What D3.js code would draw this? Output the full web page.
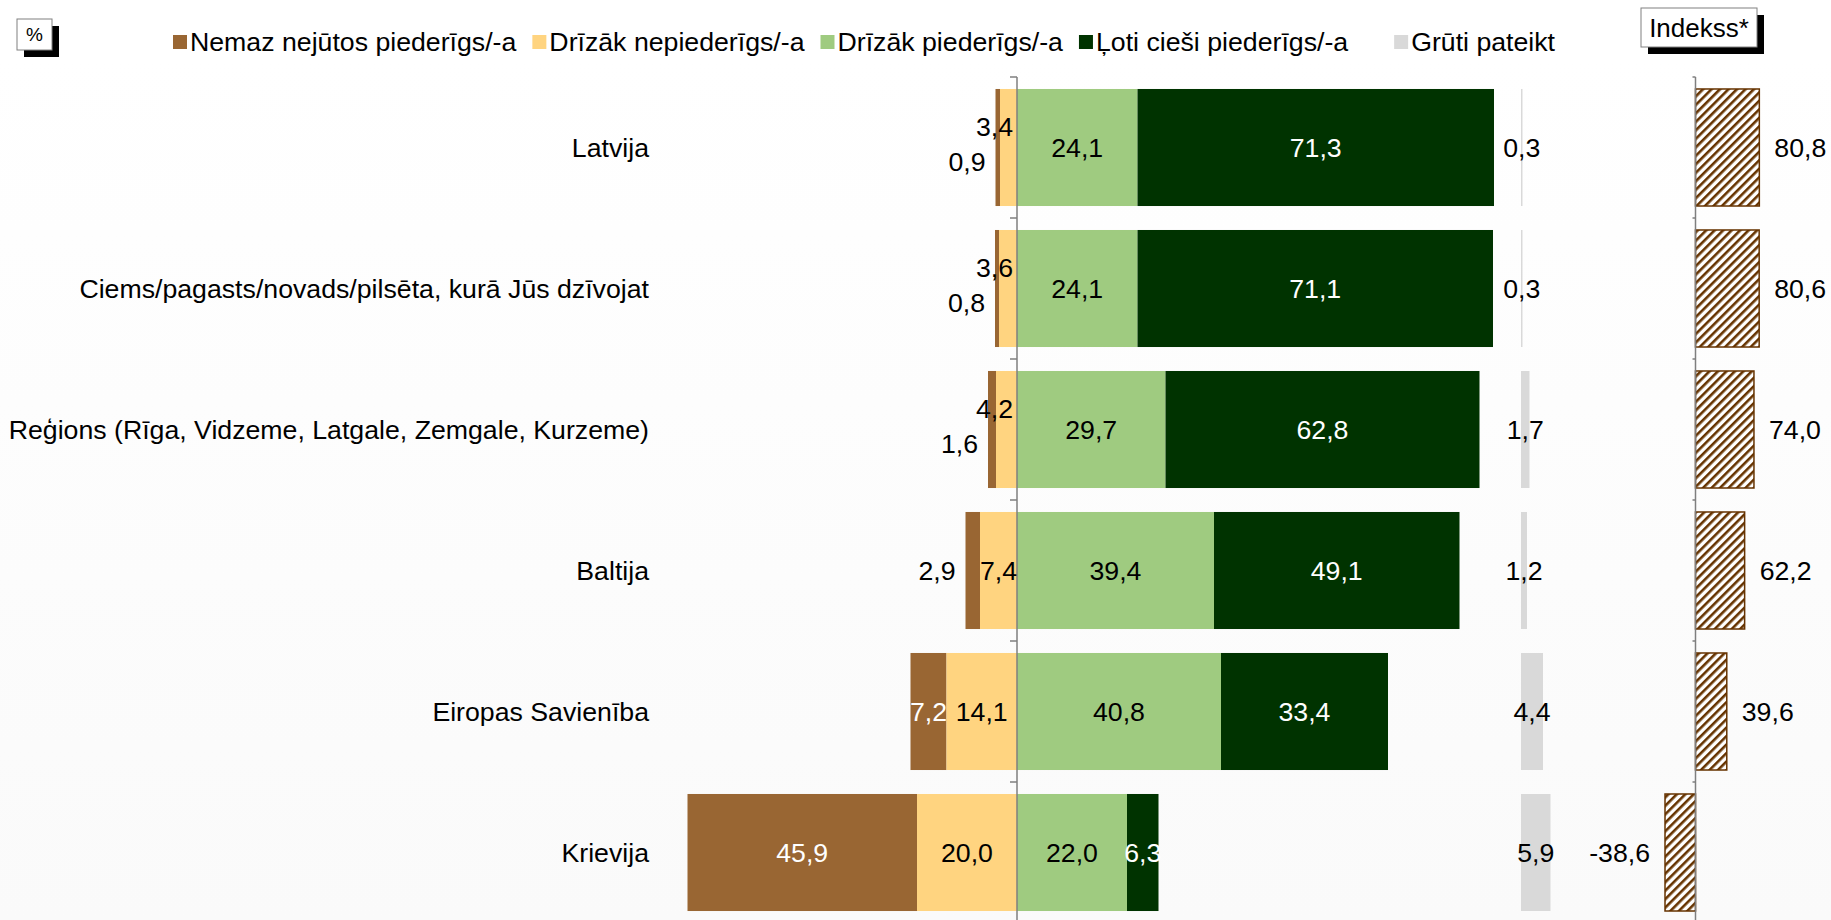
<!DOCTYPE html>
<meta charset="utf-8">
<style>
body { margin: 0; background: #fff; }
svg { display: block; font-family: "Liberation Sans", Arial, sans-serif; }
.lbl { font-size: 26.7px; fill: #000; }
.axis line { stroke: #7f7f7f; stroke-width: 1.5px; }
</style>
<svg width="1831" height="920"></svg>
<script src="https://cdn.jsdelivr.net/npm/d3@7"></script>
<script>

var categories = ["Latvija", "Ciems/pagasts/novads/pilsēta, kurā Jūs dzīvojat",
  "Reģions (Rīga, Vidzeme, Latgale, Zemgale, Kurzeme)", "Baltija",
  "Eiropas Savienība", "Krievija"];
var nemaz = [0.9, 0.8, 1.6, 2.9, 7.2, 45.9];
var drizakNe = [3.4, 3.6, 4.2, 7.4, 14.1, 20.0];
var drizakJa = [24.1, 24.1, 29.7, 39.4, 40.8, 22.0];
var lotiCiesi = [71.3, 71.1, 62.8, 49.1, 33.4, 6.3];
var grutiPateikt = [0.3, 0.3, 1.7, 1.2, 4.4, 5.9];
var indekss = [80.8, 80.6, 74.0, 62.2, 39.6, -38.6];
var seriesNames = ["Nemaz nejūtos piederīgs/-a", "Drīzāk nepiederīgs/-a",
  "Drīzāk piederīgs/-a", "Ļoti cieši piederīgs/-a", "Grūti pateikt"];
var colors = ["#996633", "#ffd480", "#9fcb80", "#003300", "#d9d9d9"];

var svg = d3.select("svg"),
    width = +svg.attr("width"),
    height = +svg.attr("height");

var lv = d3.formatLocale({decimal: ",", thousands: " ", grouping: [3], currency: ["", ""], minus: "-"});
var fmt = lv.format(".1f");

// scales: 5px per % on the main part, separate blocks for "Grūti pateikt" and index
var x = d3.scaleLinear().domain([-70, 100]).range([667, 1517]);
var xG = d3.scaleLinear().domain([0, 10]).range([1521, 1571]);
var xI = d3.scaleLinear().domain([-100, 100]).range([1616.5, 1774.5]);
var y = d3.scaleBand().domain(categories).range([77, 923])
    .paddingInner(0.17).paddingOuter(0.085);

var defs = svg.append("defs");
var pat = defs.append("pattern")
    .attr("id", "hatch")
    .attr("patternUnits", "userSpaceOnUse")
    .attr("width", 6).attr("height", 6)
    .attr("patternTransform", "rotate(45)");
pat.append("rect").attr("width", 6).attr("height", 6).attr("fill", "#fff");
pat.append("rect").attr("width", 2.6).attr("height", 6).attr("fill", "#663300");

var grad = defs.append("linearGradient")
    .attr("id", "bg").attr("x1", 0).attr("y1", 0).attr("x2", 0).attr("y2", 1);
grad.append("stop").attr("offset", 0).attr("stop-color", "#ffffff");
grad.append("stop").attr("offset", 1).attr("stop-color", "#fafafa");

// plot background
svg.append("rect")
    .attr("x", 0).attr("y", 60)
    .attr("width", width).attr("height", height - 60)
    .attr("fill", "url(#bg)");

// stacked segments
var segs = [];
categories.forEach(function(c, i) {
  var a = nemaz[i], b = drizakNe[i], g = drizakJa[i], d = lotiCiesi[i];
  segs.push({cat: c, s: 0, v: a, x0: -(a + b), x1: -b, other: b});
  segs.push({cat: c, s: 1, v: b, x0: -b, x1: 0});
  segs.push({cat: c, s: 2, v: g, x0: 0, x1: g});
  segs.push({cat: c, s: 3, v: d, x0: g, x1: g + d});
});

svg.append("g").selectAll("rect")
  .data(segs)
  .enter().append("rect")
    .attr("x", function(d) { return x(d.x0); })
    .attr("y", function(d) { return y(d.cat); })
    .attr("width", function(d) { return x(d.x1) - x(d.x0); })
    .attr("height", y.bandwidth())
    .attr("fill", function(d) { return colors[d.s]; });

// grūti pateikt
svg.append("g").selectAll("rect")
  .data(grutiPateikt)
  .enter().append("rect")
    .attr("x", xG(0))
    .attr("y", function(d, i) { return y(categories[i]); })
    .attr("width", function(d) { return xG(d) - xG(0); })
    .attr("height", y.bandwidth())
    .attr("fill", colors[4]);

// index bars
svg.append("g").selectAll("rect")
  .data(indekss)
  .enter().append("rect")
    .attr("x", function(d) { return xI(Math.min(0, d)); })
    .attr("y", function(d, i) { return y(categories[i]); })
    .attr("width", function(d) { return Math.abs(xI(d) - xI(0)); })
    .attr("height", y.bandwidth())
    .attr("fill", "url(#hatch)")
    .attr("stroke", "#663300")
    .attr("stroke-width", 1.5);

// axes at zero
function zeroAxis(px, tick) {
  var g = svg.append("g").attr("class", "axis");
  g.append("line")
      .attr("x1", px).attr("x2", px)
      .attr("y1", y.range()[0]).attr("y2", height);
  g.selectAll(".tk")
    .data(d3.range(categories.length))
    .enter().append("line")
      .attr("x1", px - tick).attr("x2", px)
      .attr("y1", function(i) { return y.range()[0] + i * y.step(); })
      .attr("y2", function(i) { return y.range()[0] + i * y.step(); });
}
zeroAxis(x(0), 7);
zeroAxis(xI(0), 3);

// segment labels
var mid = function(c) { return y(c) + y.bandwidth() / 2; };
svg.append("g").selectAll("text")
  .data(segs)
  .enter().append("text")
    .attr("class", "lbl")
    .attr("dy", "0.35em")
    .each(function(d) {
      var t = d3.select(this), cy = mid(d.cat);
      var white = (d.s === 3) || (d.s === 0 && d.v >= 5);
      if (d.s === 0 && d.v < 5) {
        t.attr("x", x(d.x0) - 10).attr("y", cy + (d.other < 5 ? 14 : 0))
         .attr("text-anchor", "end");
      } else if (d.s === 1 && d.v < 5) {
        t.attr("x", x(0) - 4).attr("y", cy - 21).attr("text-anchor", "end");
      } else {
        t.attr("x", (x(d.x0) + x(d.x1)) / 2).attr("y", cy)
         .attr("text-anchor", "middle");
      }
      t.style("fill", white ? "#fff" : "#000").text(fmt(d.v));
    });

svg.append("g").selectAll("text")
  .data(grutiPateikt)
  .enter().append("text")
    .attr("class", "lbl")
    .attr("dy", "0.35em")
    .attr("text-anchor", "middle")
    .attr("x", function(d) { return (xG(0) + xG(d)) / 2; })
    .attr("y", function(d, i) { return mid(categories[i]); })
    .text(fmt);

svg.append("g").selectAll("text")
  .data(indekss)
  .enter().append("text")
    .attr("class", "lbl")
    .attr("dy", "0.35em")
    .attr("text-anchor", function(d) { return d < 0 ? "end" : "start"; })
    .attr("x", function(d) { return xI(d) + (d < 0 ? -15 : 15); })
    .attr("y", function(d, i) { return mid(categories[i]); })
    .text(fmt);

// category labels
svg.append("g").selectAll("text")
  .data(categories)
  .enter().append("text")
    .attr("class", "lbl")
    .attr("dy", "0.35em")
    .attr("text-anchor", "end")
    .attr("x", 649)
    .attr("y", mid)
    .text(function(d) { return d; });

// legend
var lx = 173;
seriesNames.forEach(function(name, i) {
  if (i === 4) lx += 30;
  var g = svg.append("g").attr("transform", "translate(" + lx + ",42)");
  g.append("rect").attr("x", 0).attr("y", -7).attr("width", 14).attr("height", 14)
      .attr("fill", colors[i]);
  var t = g.append("text").attr("class", "lbl").attr("x", 17).attr("dy", "0.35em")
      .text(name);
  lx += 17 + t.node().getComputedTextLength() + 16;
});

// boxed titles with shadow
function box(bx, by, w, h, txt, size) {
  svg.append("rect").attr("x", bx + 7).attr("y", by + 7)
      .attr("width", w).attr("height", h).attr("fill", "#000");
  svg.append("rect").attr("x", bx).attr("y", by)
      .attr("width", w).attr("height", h)
      .attr("fill", "#fff").attr("stroke", "#808080").attr("stroke-width", 1);
  svg.append("text").attr("x", bx + w / 2).attr("y", by + h / 2)
      .attr("dy", "0.35em").attr("text-anchor", "middle")
      .style("font-size", size + "px").text(txt);
}
box(17, 19, 35, 31, "%", 19);
box(1641, 8, 116, 39, "Indekss*", 26);

</script>
